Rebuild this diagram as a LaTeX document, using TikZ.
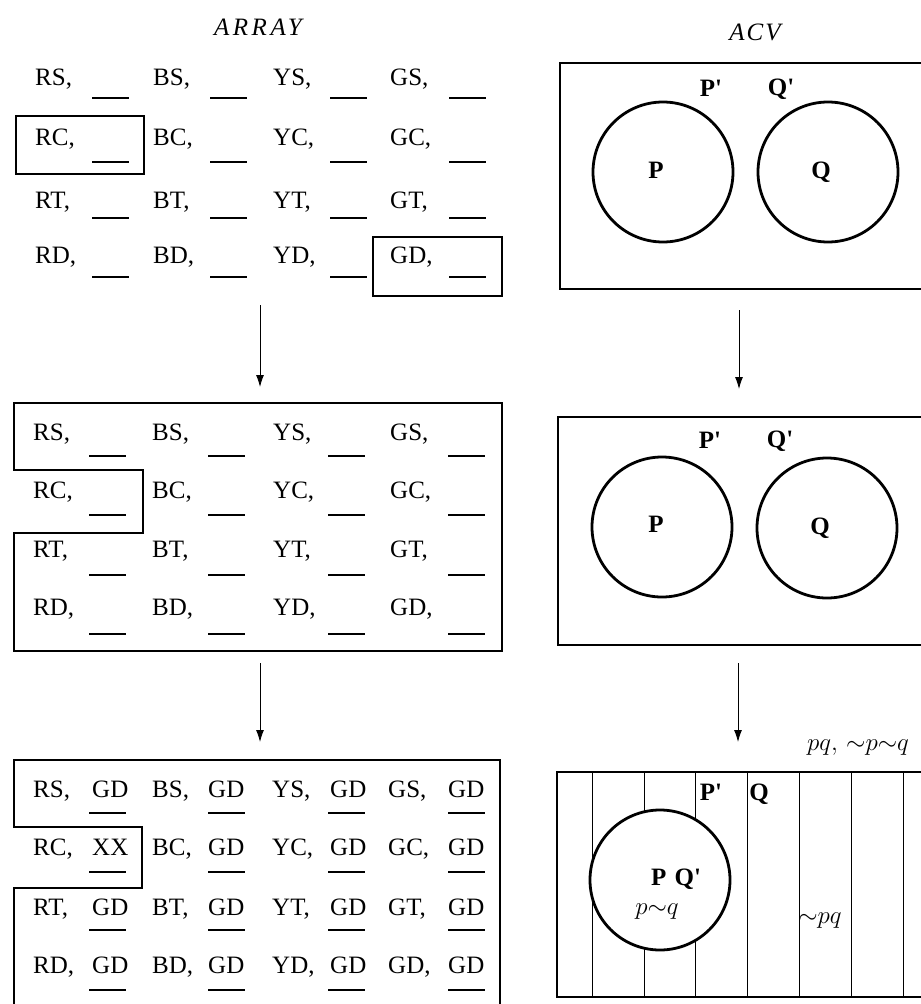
\documentclass[tikz,border=0pt]{standalone}
\usepackage{fontspec}
\setmainfont{Liberation Serif}
\newfontfamily\plainbold{Liberation Serif Bold}
\usetikzlibrary{arrows.meta}
\begin{document}
\begin{tikzpicture}[x=1pt,y=-1pt,
  lbl/.style={inner sep=0pt, font=\fontsize{25}{30}\selectfont},
  blbl/.style={inner sep=0pt, font=\fontsize{25}{30}\selectfont\plainbold},
  ilbl/.style={inner sep=0pt, font=\fontsize{25}{30}\selectfont\itshape},
  blank/.style={line width=2.8pt},
  box/.style={line width=2.5pt, line join=miter},
  ring/.style={line width=2.8pt},
  stripe/.style={line width=0.7pt},
  flow/.style={line width=0.9pt, -{Latex[length=12pt,width=8pt]}}]
\useasboundingbox (0,0) rectangle (921,1004);

% ---------------- titles
\node[ilbl] (tarr) at (258,27) {\addfontfeatures{LetterSpace=14}ARRAY};
\node[ilbl] (tacv) at (755,32) {\addfontfeatures{LetterSpace=8}ACV};

% ---------------- top array
\foreach \c/\x/\bx in {R/35/92, B/153/210, Y/273/330, G/390/449}
  \foreach \r/\by/\uy in {S/85/98, C/145/162, T/208/218, D/263/277} {
    \node[lbl,anchor=base west] (a\c\r) at (\x,\by) {\c\r,};
    \draw[blank] (\bx,\uy) -- ++(37,0);
  }
\draw[box] (16,116) rectangle (144,174);
\draw[box] (373,237) rectangle (502,296);

% ---------------- middle array
\foreach \c/\x/\bx in {R/33/89, B/152/208, Y/273/328, G/390/448}
  \foreach \r/\by/\uy in {S/440/456, C/498/515, T/557/575, D/615/634} {
    \node[lbl,anchor=base west] (b\c\r) at (\x,\by) {\c\r,};
    \draw[blank] (\bx,\uy) -- ++(37,0);
  }
\draw[box] (14,470) -- (14,403) -- (502,403) -- (502,651) -- (14,651) -- (14,533)
  -- (143,533) -- (143,470) -- cycle;

% ---------------- bottom array
\def\rcname{RC}
\foreach \c/\x/\gx/\bx in {R/33/92/89, B/152/208/208, Y/272/330/328, G/388/448/448}
  \foreach \r/\by/\uy in {S/797/813, C/855/872, T/915/930, D/973/990} {
    \node[lbl,anchor=base west] (c\c\r) at (\x,\by) {\c\r,};
    \edef\cur{\c\r}
    \node[lbl,anchor=base west] (v\c\r) at (\gx,\by) {\ifx\cur\rcname XX\else GD\fi};
    \draw[blank] (\bx,\uy) -- ++(37,0);
  }
\draw[box] (14,1006) -- (14,888) -- (142,888) -- (142,827) -- (14,827) -- (14,760)
  -- (500,760) -- (500,1006);

% ---------------- ACV top
\draw[box] (923,63) -- (560,63) -- (560,289) -- (923,289);
\draw[ring] (663,172) circle[radius=70];
\draw[ring] (828,172) circle[radius=70];
\node[blbl] (p1) at (656,170) {P};
\node[blbl] (q1) at (821,172) {Q};
\node[blbl] (pp1) at (711,88) {P'};
\node[blbl] (qp1) at (781,89) {Q'};

% ---------------- ACV middle
\draw[box] (923,417) -- (558,417) -- (558,645) -- (923,645);
\draw[ring] (662,527) circle[radius=70];
\draw[ring] (827,528) circle[radius=70];
\node[blbl] (p2) at (656,524) {P};
\node[blbl] (q2) at (820,528) {Q};
\node[blbl] (pp2) at (710,440) {P'};
\node[blbl] (qp2) at (780,441) {Q'};

% ---------------- ACV bottom
\foreach \sx in {592,644,695,747,799,851,903}
  \draw[stripe] (\sx,772) -- (\sx,997);
\draw[ring, fill=white] (660,880) circle[radius=70];
\draw[box] (923,772) -- (557,772) -- (557,997) -- (923,997);
\node[blbl] (pp3) at (711,792) {P'};
\node[blbl] (q3) at (759,794) {Q};
\node[blbl] (pq3) at (676,879) {P\,\,Q'};
\node[lbl] (l1) at (657,912) {$p{\sim}q$};
\node[lbl] (l2) at (820,921) {${\sim}pq$};
\node[lbl] (l3) at (858,748) {$pq,\,{\sim}p{\sim}q$};

% ---------------- flow arrows
\coordinate (f1a) at (260,305); \coordinate (f1b) at (260,387);
\coordinate (f2a) at (260,663); \coordinate (f2b) at (260,742);
\coordinate (f3a) at (739,310); \coordinate (f3b) at (739,389);
\coordinate (f4a) at (738,663); \coordinate (f4b) at (738,742);
\draw[flow] (f1a) -- (f1b);
\draw[flow] (f2a) -- (f2b);
\draw[flow] (f3a) -- (f3b);
\draw[flow] (f4a) -- (f4b);
\end{tikzpicture}
\end{document}
